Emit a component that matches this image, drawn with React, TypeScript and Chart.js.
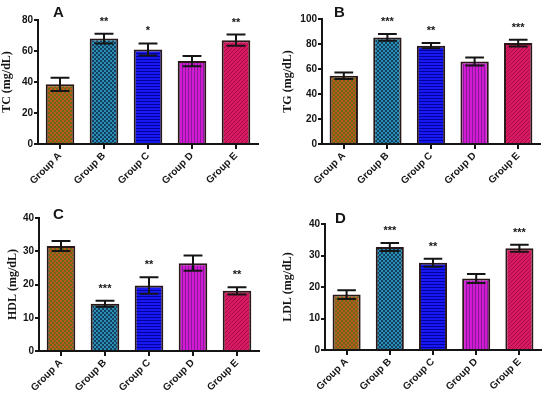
import React, { useEffect, useRef } from "react";
import { Chart, registerables } from "chart.js";

Chart.register(...registerables);

const categories = ["Group A", "Group B", "Group C", "Group D", "Group E"];

const tcValues = [38.5, 68, 61, 53.5, 67];
const tcErrors = [4.3, 3.2, 3.9, 3.3, 3.6];
const tcStars = ["", "**", "*", "", "**"];
const tcTicks = [0, 20, 40, 60, 80];

const tgValues = [54.7, 85.3, 78.7, 66, 80.8];
const tgErrors = [2.6, 2.7, 2.1, 3.2, 2.7];
const tgStars = ["", "***", "**", "", "***"];
const tgTicks = [0, 20, 40, 60, 80, 100];

const hdlValues = [31.6, 14.2, 19.7, 26.4, 18.1];
const hdlErrors = [1.5, 0.9, 2.5, 2.3, 1.1];
const hdlStars = ["", "***", "**", "", "**"];
const hdlTicks = [0, 10, 20, 30, 40];

const ldlValues = [17.6, 32.7, 27.7, 22.7, 32.3];
const ldlErrors = [1.4, 1.3, 1.3, 1.4, 1.1];
const ldlStars = ["", "***", "**", "", "***"];
const ldlTicks = [0, 10, 20, 30, 40];

type PanelDef = {
  letter: string;
  yTitle: string;
  values: number[];
  errors: number[];
  stars: string[];
  ticks: number[];
  left: number;
  top: number;
  w: number;
  h: number;
  padLeft: number;
  axisW: number;
  padTop: number;
  padRight: number;
  xAxisH: number;
  letterDx: number;
  letterY: number;
};

const panels: PanelDef[] = [
  { letter: "A", yTitle: "TC (mg/dL)", values: tcValues, errors: tcErrors, stars: tcStars, ticks: tcTicks,
    left: 0, top: 0, w: 275, h: 198, padLeft: 0, axisW: 38, padTop: 20, padRight: 17, xAxisH: 54, letterDx: 15, letterY: 13 },
  { letter: "B", yTitle: "TG (mg/dL)", values: tgValues, errors: tgErrors, stars: tgStars, ticks: tgTicks,
    left: 275, top: 0, w: 275, h: 198, padLeft: 6, axisW: 41, padTop: 19, padRight: 10, xAxisH: 54, letterDx: 12, letterY: 13 },
  { letter: "C", yTitle: "HDL (mg/dL)", values: hdlValues, errors: hdlErrors, stars: hdlStars, ticks: hdlTicks,
    left: 0, top: 198, w: 275, h: 199, padLeft: 6, axisW: 33, padTop: 20, padRight: 16, xAxisH: 46, letterDx: 14, letterY: 17 },
  { letter: "D", yTitle: "LDL (mg/dL)", values: ldlValues, errors: ldlErrors, stars: ldlStars, ticks: ldlTicks,
    left: 275, top: 198, w: 275, h: 199, padLeft: 6, axisW: 44, padTop: 26, padRight: 9, xAxisH: 47, letterDx: 10, letterY: 21 },
];

function makePattern(size: number, draw: (c: CanvasRenderingContext2D) => void): CanvasPattern | string {
  const cv = document.createElement("canvas");
  cv.width = size;
  cv.height = size;
  const c = cv.getContext("2d");
  if (!c) return "#888";
  draw(c);
  const p = c.createPattern(cv, "repeat");
  return p || "#888";
}

function buildPatterns() {
  const a = makePattern(4, (c) => {
    c.fillStyle = "#b85a1c"; c.fillRect(0, 0, 4, 4);
    c.fillStyle = "#6a6a18"; c.fillRect(0, 0, 2, 2); c.fillRect(2, 2, 2, 2);
    c.fillStyle = "#d8441c"; c.fillRect(2, 0, 1, 1);
  });
  const b = makePattern(4, (c) => {
    c.fillStyle = "#2b8fb5"; c.fillRect(0, 0, 4, 4);
    c.fillStyle = "#12405e"; c.fillRect(0, 0, 2, 2); c.fillRect(2, 2, 2, 2);
  });
  const cc = makePattern(3, (c) => {
    c.fillStyle = "#1818f0"; c.fillRect(0, 0, 3, 3);
    c.fillStyle = "#0000a0"; c.fillRect(0, 2, 3, 1);
  });
  const d = makePattern(3, (c) => {
    c.fillStyle = "#d21ad2"; c.fillRect(0, 0, 3, 3);
    c.fillStyle = "#8a1a9c"; c.fillRect(2, 0, 1, 3);
  });
  const e = makePattern(4, (c) => {
    c.fillStyle = "#d81a62"; c.fillRect(0, 0, 4, 4);
    c.fillStyle = "#a80c48";
    for (let i = 0; i < 4; i++) c.fillRect(i, 3 - i, 1, 1);
  });
  return [a, b, cc, d, e];
}

function Panel({ def }: { def: PanelDef }) {
  const ref = useRef<HTMLCanvasElement>(null);
  useEffect(() => {
    const canvas = ref.current;
    if (!canvas) return;
    const fills = buildPatterns();
    const ink = "#151515";
    const errPlugin = {
      id: "errbars",
      afterDatasetsDraw(chart: any) {
        const ctx = chart.ctx;
        const meta = chart.getDatasetMeta(0);
        const ys = chart.scales.y;
        ctx.save();
        ctx.strokeStyle = ink;
        ctx.lineWidth = 2;
        meta.data.forEach((bar: any, i: number) => {
          const v = def.values[i];
          const e = def.errors[i];
          const yt = ys.getPixelForValue(v + e);
          const yb = ys.getPixelForValue(v - e);
          const half = bar.width * 0.33;
          ctx.beginPath();
          ctx.moveTo(bar.x, yt); ctx.lineTo(bar.x, yb);
          ctx.moveTo(bar.x - half, yt); ctx.lineTo(bar.x + half, yt);
          ctx.moveTo(bar.x - half, yb); ctx.lineTo(bar.x + half, yb);
          ctx.stroke();
          const s = def.stars[i];
          if (s) {
            ctx.fillStyle = ink;
            ctx.font = "bold 11px 'Liberation Sans', Arial, sans-serif";
            ctx.textAlign = "center";
            ctx.textBaseline = "middle";
            ctx.fillText(s, bar.x, yt - 12);
          }
        });
        ctx.fillStyle = ink;
        ctx.font = "bold 15px 'Liberation Sans', Arial, sans-serif";
        ctx.textAlign = "left";
        ctx.textBaseline = "middle";
        ctx.fillText(def.letter, chart.chartArea.left + def.letterDx, def.letterY);
        ctx.restore();
      },
    };
    const chart = new Chart(canvas, {
      type: "bar",
      data: {
        labels: categories,
        datasets: [
          {
            data: def.values,
            backgroundColor: fills as any,
            borderColor: "#2a1818",
            borderWidth: 2,
            barPercentage: 0.65,
            categoryPercentage: 1,
          },
        ],
      },
      options: {
        responsive: false,
        animation: false,
        devicePixelRatio: 1,
        layout: { padding: { left: def.padLeft, top: def.padTop, right: def.padRight, bottom: 0 } },
        plugins: { legend: { display: false }, tooltip: { enabled: false }, title: { display: false } },
        scales: {
          x: {
            grid: { offset: false, drawOnChartArea: false, drawTicks: true, tickLength: 5, color: ink, lineWidth: 2 },
            border: { display: true, color: ink, width: 2 },
            ticks: {
              minRotation: 45,
              maxRotation: 45,
              color: ink,
              padding: 1,
              font: { family: "'Liberation Sans', Arial, sans-serif", weight: "bold", size: 10 },
            },
            afterFit: (s: any) => { s.height = def.xAxisH; },
          },
          y: {
            min: def.ticks[0],
            max: def.ticks[def.ticks.length - 1],
            afterBuildTicks: (s: any) => { s.ticks = def.ticks.map((v) => ({ value: v })); },
            grid: { drawOnChartArea: false, drawTicks: true, tickLength: 4, color: ink, lineWidth: 2 },
            border: { display: true, color: ink, width: 2 },
            ticks: {
              color: ink,
              padding: 1,
              font: { family: "'Liberation Sans', Arial, sans-serif", weight: "bold", size: 10 },
            },
            title: {
              display: true,
              text: def.yTitle,
              color: ink,
              padding: 0,
              font: { family: "'Liberation Serif', 'Times New Roman', serif", weight: "bold", size: 12 },
            },
            afterFit: (s: any) => { s.width = def.axisW; },
          },
        },
      },
      plugins: [errPlugin],
    });
    return () => chart.destroy();
  }, [def]);
  return (
    <canvas
      ref={ref}
      width={def.w}
      height={def.h}
      style={{ position: "absolute", left: def.left, top: def.top, width: def.w, height: def.h }}
    />
  );
}

export default function App() {
  return (
    <div style={{ position: "absolute", left: 0, top: 0, width: 550, height: 397, background: "#fff", overflow: "hidden" }}>
      {panels.map((p) => (
        <Panel key={p.letter} def={p} />
      ))}
    </div>
  );
}
